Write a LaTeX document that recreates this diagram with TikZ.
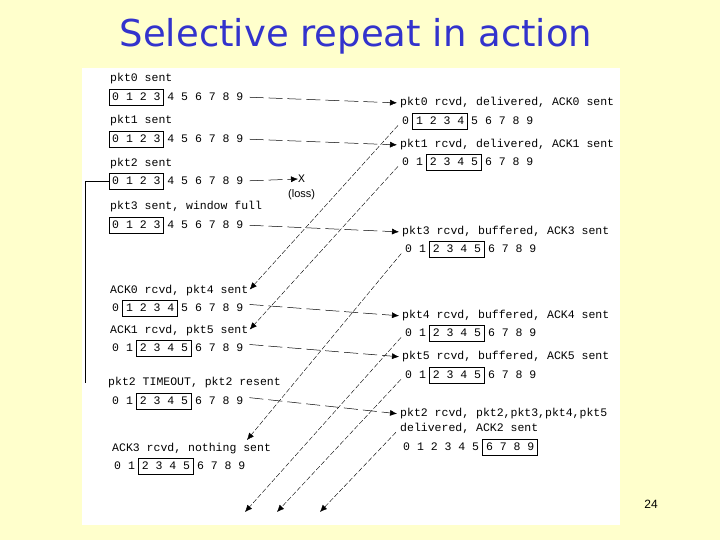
\documentclass[tikz,border=0pt]{standalone}
\usepackage{fontspec}
\setmainfont{Liberation Sans}
\newfontfamily\monof{Liberation Mono}
\newfontfamily\titlef{DejaVu Sans}
\usetikzlibrary{arrows.meta,calc}
\newcommand\cw{6.9}
\newcommand\digrow[5]{%
  \node[arr] (#1) at (#2,#3) {0 1 2 3 4 5 6 7 8 9};
  \draw[boxl] ($(#1.west)+(2*#4*\cw-3,-8)$) rectangle ($(#1.west)+(2*#5*\cw+\cw+3,8)$);}
\definecolor{bg}{HTML}{FFFFCC}
\definecolor{ttl}{HTML}{3333CC}
\begin{document}
\begin{tikzpicture}[x=1pt,y=-1pt,
  lbl/.style={font=\monof\fontsize{11.5}{12}\selectfont,anchor=west,inner sep=0pt},
  arr/.style={lbl},
  boxl/.style={line width=0.7pt},
  snd/.style={dash pattern=on 14pt off 5pt,-{Latex[length=7pt,width=6pt]},line width=0.5pt},
  ack/.style={dash pattern=on 5pt off 2pt,-{Latex[length=7pt,width=6pt]},line width=0.4pt}]
\fill[bg] (0,0) rectangle (720,540);
\fill[white] (82,68) rectangle (620,525);
\node[font=\titlef\fontsize{37}{42}\selectfont,text=ttl,inner sep=0] (title) at (356,36) {Selective repeat in action};
\node[font=\fontsize{12}{14}\selectfont,inner sep=0] (pg) at (651,504) {24};
% sender
\node[lbl] (l0) at (110,79) {pkt0 sent};
\digrow{s0}{112}{97}{0}{3}
\node[lbl] (l1) at (110,121) {pkt1 sent};
\digrow{s1}{112}{139}{0}{3}
\node[lbl] (l2) at (110,164) {pkt2 sent};
\digrow{s2}{112}{181}{0}{3}
\node[lbl] (l3) at (110,207) {pkt3 sent, window full};
\digrow{s3}{112}{225}{0}{3}
\node[lbl] (l4) at (110,291) {ACK0 rcvd, pkt4 sent};
\digrow{s4}{112}{308}{1}{4}
\node[lbl] (l5) at (110,331) {ACK1 rcvd, pkt5 sent};
\digrow{s5}{112}{348}{2}{5}
\node[lbl] (l6) at (108,383) {pkt2 TIMEOUT, pkt2 resent};
\digrow{s6}{112}{401}{2}{5}
\node[lbl] (l7) at (112,449) {ACK3 rcvd, nothing sent};
\digrow{s7}{114}{466}{2}{5}
% receiver
\node[lbl] (r0) at (400,103) {pkt0 rcvd, delivered, ACK0 sent};
\digrow{q0}{402}{121}{1}{4}
\node[lbl] (r1) at (400,145) {pkt1 rcvd, delivered, ACK1 sent};
\digrow{q1}{402}{162}{2}{5}
\node[lbl] (r3) at (402,232) {pkt3 rcvd, buffered, ACK3 sent};
\digrow{q3}{405}{249}{2}{5}
\node[lbl] (r4) at (402,316) {pkt4 rcvd, buffered, ACK4 sent};
\digrow{q4}{405}{333}{2}{5}
\node[lbl] (r5) at (402,357) {pkt5 rcvd, buffered, ACK5 sent};
\digrow{q5}{405}{375}{2}{5}
\node[lbl] (r2) at (400,414) {pkt2 rcvd, pkt2,pkt3,pkt4,pkt5};
\node[lbl] (r2b) at (400,428) {delivered, ACK2 sent};
\digrow{q2}{403}{447}{6}{9}
% loss
\node[lbl] (x) at (298,179) {X};
\node[lbl,font=\fontsize{11}{12}\selectfont] (loss) at (288,195) {(loss)};
% timeout bracket
\draw[line width=0.6pt] (s2.west) ++(-3,0) -| (85,383);
% sender -> receiver
\draw[snd,shorten <=6pt,shorten >=3pt] (s0.east) -- (r0.west);
\draw[snd,shorten <=6pt,shorten >=3pt] (s1.east) -- (r1.west);
\draw[snd,shorten <=6pt] (s2.east) -- (x.west);
\draw[snd,shorten <=6pt,shorten >=3pt] (s3.east) -- (r3.west);
\draw[snd,shorten <=6pt,shorten >=3pt] ($(s4.east)+(0,-4)$) -- (r4.west);
\draw[snd,shorten <=6pt,shorten >=3pt] ($(s5.east)+(0,-4)$) -- (r5.west);
\draw[snd,shorten <=6pt,shorten >=3pt] ($(s6.east)+(0,-4)$) -- (r2.west);
% acks
\coordinate (a3) at (247,440);
\coordinate (a4) at (245,512);
\coordinate (a5) at (277,512);
\coordinate (a2) at (320,512);
\draw[ack,shorten <=6pt,shorten >=2pt] (q0.west) -- (l4.east);
\draw[ack,shorten <=6pt,shorten >=2pt] (q1.west) -- (l5.east);
\draw[ack,shorten <=6pt] (q3.west) -- (a3);
\draw[ack,shorten <=6pt] (q4.west) -- (a4);
\draw[ack,shorten <=6pt] (q5.west) -- (a5);
\draw[ack,shorten <=6pt] (r2b.west) -- (a2);
\end{tikzpicture}
\end{document}
